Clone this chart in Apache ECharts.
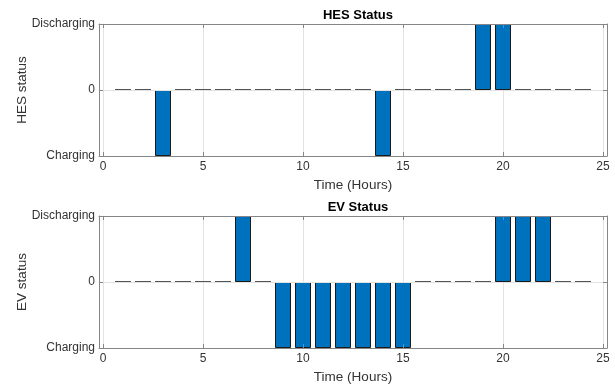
<!DOCTYPE html>
<html>
<head>
<meta charset="utf-8">
<script src="https://cdn.jsdelivr.net/npm/echarts@6/dist/echarts.min.js"></script>
<style>html,body{margin:0;padding:0;background:#fff}#c{width:615px;height:390px}</style>
</head>
<body>
<div id="c"></div>
<script>
const hours = [1,2,3,4,5,6,7,8,9,10,11,12,13,14,15,16,17,18,19,20,21,22,23,24];
const hesStatus = [0,0,-1,0,0,0,0,0,0,0,0,0,0,-1,0,0,0,0,1,1,0,0,0,0];
const evStatus  = [0,0,0,0,0,0,1,0,-1,-1,-1,-1,-1,-1,-1,0,0,0,0,1,1,1,0,0];
const xTicks = [0,5,10,15,20,25];
const yTickNames = {'-1':'Charging','0':'0','1':'Discharging'};
const titles = ['HES Status','EV Status'];
const yNames = ['HES status','EV status'];
const xName = 'Time (Hours)';

const FONT = 'Arial, "Liberation Sans", Helvetica, sans-serif';
const BOX = '#868686';
const grids = [
  {left: 99, top: 24, width: 508, height: 132},
  {left: 99, top: 216, width: 508, height: 132}
];

const xAxes = [], yAxes = [], series = [];
[hesStatus, evStatus].forEach((vals, i) => {
  xAxes.push({
    type: 'value', gridIndex: i, min: -0.2, max: 25.2, position: 'bottom', z: 10,
    name: xName, nameLocation: 'middle', nameGap: 22, nameMoveOverlap: false,
    nameTextStyle: {fontFamily: FONT, fontSize: 13.5, color: '#333'},
    axisLine: {show: true, onZero: false, lineStyle: {color: BOX, width: 1}},
    axisTick: {show: true, inside: true, length: 4, customValues: xTicks, lineStyle: {color: BOX}},
    axisLabel: {customValues: xTicks, margin: 5, fontFamily: FONT, fontSize: 12, color: '#333'},
    splitLine: {show: false}
  });
  xAxes.push({
    type: 'value', gridIndex: i, min: -0.2, max: 25.2, position: 'top', z: 10,
    axisLine: {show: true, onZero: false, lineStyle: {color: BOX, width: 1}},
    axisTick: {show: true, inside: true, length: 4, customValues: xTicks, lineStyle: {color: BOX}},
    axisLabel: {show: false},
    splitLine: {show: false}
  });
  yAxes.push({
    type: 'value', gridIndex: i, min: -1, max: 1, interval: 1, position: 'left', z: 10,
    name: yNames[i], nameLocation: 'middle', nameGap: 70, nameRotate: 90, nameMoveOverlap: false,
    nameTextStyle: {fontFamily: FONT, fontSize: 13.5, color: '#333'},
    axisLine: {show: true, onZero: false, lineStyle: {color: BOX, width: 1}},
    axisTick: {show: true, inside: true, length: 4, lineStyle: {color: BOX}},
    axisLabel: {margin: 4, fontFamily: FONT, fontSize: 12, color: '#333',
      formatter: v => yTickNames[String(v)]},
    splitLine: {show: true, lineStyle: {color: '#e3e3e3', width: 1}}
  });
  yAxes.push({
    type: 'value', gridIndex: i, min: -1, max: 1, interval: 1, position: 'right', z: 10,
    axisLine: {show: true, onZero: false, lineStyle: {color: BOX, width: 1}},
    axisTick: {show: true, inside: true, length: 4, lineStyle: {color: BOX}},
    axisLabel: {show: false},
    splitLine: {show: false}
  });
  // vertical grid lines at x ticks
  series.push({
    type: 'line', xAxisIndex: 2*i, yAxisIndex: 2*i, data: [], silent: true, z: 1,
    markLine: {
      symbol: 'none', silent: true, label: {show: false}, z: 1,
      lineStyle: {color: '#e3e3e3', width: 1, type: 'solid'},
      data: xTicks.map(t => ({xAxis: t}))
    }
  });
  // zero line
  series.push({
    type: 'line', xAxisIndex: 2*i, yAxisIndex: 2*i, data: [], silent: true, z: 1,
    markLine: {
      symbol: 'none', silent: true, label: {show: false}, z: 1,
      lineStyle: {color: '#7a7a7a', width: 1, type: 'solid'},
      data: [{yAxis: 0}]
    }
  });
  series.push({
    type: 'bar', xAxisIndex: 2*i, yAxisIndex: 2*i, z: 5,
    data: hours.map((h, k) => [h, vals[k]]),
    barWidth: '80%',
    itemStyle: {color: '#0072BD', borderColor: '#1a1a1a', borderWidth: 1},
    emphasis: {disabled: true},
    animation: false
  });
});

const chart = echarts.init(document.getElementById('c'), null, {renderer: 'canvas'});
chart.setOption({
  animation: false,
  backgroundColor: '#ffffff',
  title: titles.map((t, i) => ({
    text: t, left: 353, top: i === 0 ? 4 : 196, textAlign: 'center',
    textStyle: {fontFamily: FONT, fontSize: 13, fontWeight: 'bold', color: '#000'}
  })),
  grid: grids,
  xAxis: xAxes,
  yAxis: yAxes,
  series: series
});
</script>
</body>
</html>
